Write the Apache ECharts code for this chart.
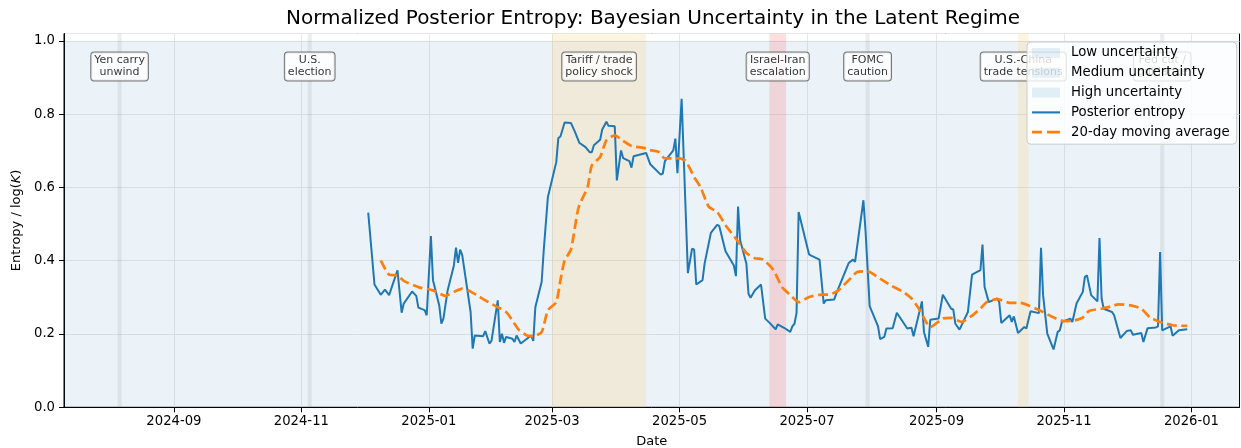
<!DOCTYPE html>
<html><head><meta charset="utf-8">
<script src="https://cdn.jsdelivr.net/npm/echarts@6/dist/echarts.min.js"></script>
<style>html,body{margin:0;padding:0;background:#fff}#c{width:1241px;height:448px}</style>
</head><body><div id="c"></div>
<script>
// ---------------- data ----------------
const entropyDates = [
'2024-12-03','2024-12-06','2024-12-09','2024-12-11','2024-12-13','2024-12-17','2024-12-19','2024-12-20','2024-12-24','2024-12-26',
'2024-12-27','2024-12-30','2024-12-31','2025-01-02','2025-01-03','2025-01-06','2025-01-07','2025-01-08','2025-01-10','2025-01-13',
'2025-01-14','2025-01-15','2025-01-16','2025-01-17','2025-01-21','2025-01-22','2025-01-23','2025-01-27','2025-01-28','2025-01-30',
'2025-01-31','2025-02-03','2025-02-04','2025-02-05','2025-02-06','2025-02-07','2025-02-10','2025-02-11','2025-02-12','2025-02-14',
'2025-02-19','2025-02-20','2025-02-21','2025-02-24','2025-02-25','2025-02-27','2025-03-03','2025-03-04','2025-03-05','2025-03-07',
'2025-03-10','2025-03-12','2025-03-14','2025-03-17','2025-03-19','2025-03-20','2025-03-21','2025-03-24','2025-03-25','2025-03-27',
'2025-03-28','2025-03-31','2025-04-01','2025-04-03','2025-04-04','2025-04-07','2025-04-08','2025-04-09','2025-04-15','2025-04-17',
'2025-04-22','2025-04-23','2025-04-24','2025-04-28','2025-04-29','2025-04-30','2025-05-02','2025-05-05','2025-05-07','2025-05-08',
'2025-05-09','2025-05-12','2025-05-13','2025-05-16','2025-05-19','2025-05-20','2025-05-23','2025-05-27','2025-05-28','2025-05-29',
'2025-05-30','2025-06-02','2025-06-03','2025-06-04','2025-06-06','2025-06-09','2025-06-11','2025-06-13','2025-06-16','2025-06-17',
'2025-06-20','2025-06-23','2025-06-24','2025-06-25','2025-06-26','2025-06-27','2025-07-02','2025-07-03','2025-07-07','2025-07-09',
'2025-07-10','2025-07-14','2025-07-15','2025-07-17','2025-07-21','2025-07-23','2025-07-24','2025-07-28','2025-07-29','2025-07-31',
'2025-08-04','2025-08-05','2025-08-07','2025-08-08','2025-08-11','2025-08-13','2025-08-18','2025-08-20','2025-08-21','2025-08-25',
'2025-08-26','2025-08-28','2025-08-29','2025-09-02','2025-09-04','2025-09-08','2025-09-09','2025-09-10','2025-09-12','2025-09-16',
'2025-09-18','2025-09-22','2025-09-23','2025-09-24','2025-09-26','2025-09-30','2025-10-01','2025-10-02','2025-10-06','2025-10-07',
'2025-10-08','2025-10-10','2025-10-13','2025-10-14','2025-10-15','2025-10-16','2025-10-20','2025-10-21','2025-10-22','2025-10-24',
'2025-10-27','2025-10-29','2025-10-30','2025-10-31','2025-11-04','2025-11-05','2025-11-07','2025-11-10','2025-11-11','2025-11-12',
'2025-11-14','2025-11-17','2025-11-18','2025-11-19','2025-11-20','2025-11-24','2025-11-25','2025-11-28','2025-12-01','2025-12-03',
'2025-12-04','2025-12-08','2025-12-09','2025-12-11','2025-12-15','2025-12-16','2025-12-17','2025-12-18','2025-12-22','2025-12-23',
'2025-12-26','2025-12-30'
];
const entropyValues = [
0.531,0.335,0.307,0.321,0.306,0.374,0.258,0.283,0.316,0.304,
0.272,0.265,0.251,0.467,0.347,0.278,0.228,0.242,0.319,0.387,
0.436,0.394,0.430,0.415,0.260,0.160,0.196,0.194,0.208,0.174,
0.181,0.292,0.178,0.201,0.176,0.192,0.187,0.178,0.196,0.174,
0.196,0.181,0.274,0.342,0.428,0.574,0.669,0.735,0.739,0.777,
0.776,0.751,0.722,0.710,0.696,0.696,0.715,0.730,0.758,0.779,
0.768,0.767,0.619,0.701,0.680,0.672,0.654,0.685,0.694,0.663,
0.635,0.638,0.672,0.701,0.733,0.639,0.842,0.366,0.433,0.430,
0.335,0.347,0.392,0.476,0.498,0.495,0.426,0.387,0.358,0.548,
0.456,0.392,0.310,0.299,0.319,0.335,0.242,0.231,0.213,0.226,
0.217,0.206,0.221,0.228,0.257,0.533,0.417,0.414,0.403,0.283,
0.292,0.294,0.310,0.338,0.394,0.403,0.397,0.565,0.483,0.276,
0.221,0.186,0.192,0.215,0.216,0.258,0.215,0.217,0.194,0.289,
0.205,0.165,0.239,0.242,0.307,0.269,0.267,0.228,0.212,0.260,
0.362,0.374,0.444,0.328,0.287,0.297,0.287,0.230,0.251,0.233,
0.248,0.203,0.219,0.215,0.239,0.262,0.257,0.435,0.306,0.201,
0.158,0.206,0.210,0.233,0.242,0.233,0.283,0.315,0.356,0.360,
0.306,0.289,0.462,0.297,0.269,0.260,0.251,0.189,0.208,0.210,
0.198,0.203,0.178,0.216,0.218,0.221,0.424,0.210,0.221,0.195,
0.210,0.213
];
const maDates = [
'2024-12-09','2024-12-13','2024-12-17','2024-12-20','2024-12-27','2025-01-03','2025-01-09','2025-01-13','2025-01-17','2025-01-20',
'2025-01-24','2025-01-28','2025-02-02','2025-02-07','2025-02-10','2025-02-13','2025-02-17','2025-02-20','2025-02-24','2025-02-27',
'2025-03-03','2025-03-05','2025-03-07','2025-03-10','2025-03-13','2025-03-14','2025-03-18','2025-03-20','2025-03-24','2025-03-27',
'2025-03-31','2025-04-04','2025-04-08','2025-04-14','2025-04-16','2025-04-21','2025-04-24','2025-05-01','2025-05-04','2025-05-08',
'2025-05-11','2025-05-15','2025-05-19','2025-05-23','2025-05-28','2025-06-02','2025-06-06','2025-06-10','2025-06-15','2025-06-19',
'2025-06-23','2025-06-27','2025-07-02','2025-07-07','2025-07-12','2025-07-16','2025-07-21','2025-07-25','2025-07-30','2025-08-05',
'2025-08-10','2025-08-16','2025-08-20','2025-08-24','2025-08-27','2025-08-29','2025-09-04','2025-09-08','2025-09-13','2025-09-17',
'2025-09-22','2025-09-25','2025-09-30','2025-10-06','2025-10-11','2025-10-15','2025-10-21','2025-10-26','2025-11-01','2025-11-06',
'2025-11-10','2025-11-13','2025-11-19','2025-11-24','2025-11-27','2025-12-03','2025-12-08','2025-12-12','2025-12-17','2025-12-23',
'2025-12-30'
];
const maValues = [
0.401,0.362,0.360,0.345,0.328,0.319,0.304,0.315,0.324,0.319,
0.306,0.292,0.276,0.260,0.237,0.212,0.196,0.194,0.205,0.265,
0.287,0.347,0.401,0.430,0.528,0.551,0.601,0.660,0.683,0.729,
0.742,0.727,0.713,0.708,0.703,0.697,0.679,0.679,0.672,0.628,
0.601,0.547,0.533,0.497,0.460,0.421,0.407,0.403,0.374,0.328,
0.306,0.287,0.301,0.307,0.308,0.319,0.347,0.369,0.371,0.351,
0.333,0.315,0.297,0.265,0.233,0.219,0.242,0.244,0.233,0.246,
0.269,0.287,0.295,0.285,0.285,0.278,0.263,0.248,0.235,0.237,
0.245,0.263,0.269,0.276,0.281,0.278,0.269,0.246,0.233,0.224,
0.222
];
const eventLabels = ['Yen carry\nunwind','U.S.\nelection','Tariff / trade\npolicy shock','Israel-Iran\nescalation','FOMC\ncaution','U.S.-China\ntrade tensions','Fed cut /\nguidance'];
const eventStarts = ['2024-08-05','2024-11-04','2025-03-01','2025-06-13','2025-07-29','2025-10-10','2025-12-17'];
const eventEnds   = ['2024-08-07','2024-11-06','2025-04-15','2025-06-21','2025-07-31','2025-10-15','2025-12-19'];
const eventKinds  = ['macro','macro','trade','geo','macro','trade','macro'];
const regimeNames = ['Low uncertainty','Medium uncertainty','High uncertainty'];
const xTickLabels = ['2024-09','2024-11','2025-01','2025-03','2025-05','2025-07','2025-09','2025-11','2026-01'];
const yTickLabels = ['0.0','0.2','0.4','0.6','0.8','1.0'];

// ---------------- chart ----------------
const FONT = 'DejaVu Sans';
const DAY = 86400000;
function toMs(s){ const p = s.split('-').map(Number); return Date.UTC(p[0], p[1]-1, p[2] || 1); }
const xTickValues = xTickLabels.map(s => toMs(s + '-01'));
const kindColor = { macro: 'rgba(120,120,145,0.13)', trade: 'rgba(255,200,100,0.2)', geo: 'rgba(255,90,100,0.2)' };
const bgColor = 'rgba(31,119,180,0.09)';
const patchColor = 'rgba(31,119,180,0.11)';

const bandAreas = [[{ yAxis: 0, itemStyle: { color: bgColor } }, { yAxis: 1 }]];
eventStarts.forEach((s, i) => {
  bandAreas.push([{ xAxis: toMs(s), itemStyle: { color: kindColor[eventKinds[i]] } }, { xAxis: toMs(eventEnds[i]) }]);
});
const annData = eventLabels.map((t, i) => ({
  value: [(toMs(eventStarts[i]) + toMs(eventEnds[i])) / 2, 0.93],
  name: t
}));

const chart = echarts.init(document.getElementById('c'), null, { renderer: 'canvas', width: 1241, height: 448 });
chart.setOption({
  animation: false,
  backgroundColor: '#fff',
  title: {
    text: 'Normalized Posterior Entropy: Bayesian Uncertainty in the Latent Regime',
    left: 653, top: 9, textAlign: 'center', padding: 0,
    textStyle: { fontFamily: FONT, fontSize: 20, fontWeight: 'normal', color: '#000' }
  },
  grid: { left: 64, right: 1.5, top: 33.5, bottom: 40.7, show: true, borderColor: '#000', borderWidth: 1,
          backgroundColor: 'transparent', containLabel: false, outerBoundsMode: 'none' },
  legend: {
    orient: 'vertical', left: 1027, top: 42, z: 10,
    itemWidth: 28, itemHeight: 10, itemGap: 5.8,
    padding: [4, 7, 5, 5],
    backgroundColor: 'rgba(255,255,255,0.8)', borderColor: '#cccccc', borderWidth: 1, borderRadius: 4,
    selectedMode: false,
    textStyle: { fontFamily: FONT, fontSize: 13.3, color: '#000', lineHeight: 14, padding: [0, 0, 0, 6] },
    data: [
      { name: regimeNames[0], icon: 'rect', itemStyle: { color: patchColor, borderWidth: 0 } },
      { name: regimeNames[1], icon: 'rect', itemStyle: { color: patchColor, borderWidth: 0 } },
      { name: regimeNames[2], icon: 'rect', itemStyle: { color: patchColor, borderWidth: 0 } },
      { name: 'Posterior entropy', icon: 'path://M0,0h28v2.1h-28z', itemStyle: { color: '#1f77b4', borderWidth: 0 } },
      { name: '20-day moving average', icon: 'path://M0,0h10v2.8h-10zM15,0h13v2.8h-13z', itemStyle: { color: '#ff7f0e', borderWidth: 0 } }
    ]
  },
  xAxis: {
    type: 'value', scale: true,
    min: toMs('2024-07-10') + 0.4 * DAY, max: toMs('2026-01-24'),
    name: 'Date', nameLocation: 'middle', nameGap: 28,
    nameTextStyle: { fontFamily: FONT, fontSize: 13, color: '#000' },
    axisLine: { show: true, onZero: false, lineStyle: { color: '#000', width: 1 } },
    axisTick: { show: true, length: 5, lineStyle: { color: '#000', width: 1 }, customValues: xTickValues },
    axisLabel: {
      customValues: xTickValues, fontFamily: FONT, fontSize: 13.2, color: '#000', margin: 8, hideOverlap: false,
      formatter: v => { const k = xTickValues.indexOf(v); return k >= 0 ? xTickLabels[k] : ''; }
    },
    splitLine: { show: true, lineStyle: { color: '#e8e8e8', width: 1 } }
  },
  yAxis: {
    type: 'value', min: 0, max: 1.02, interval: 0.2,
    name: 'Entropy / log({i|K})', nameLocation: 'middle', nameGap: 34, nameRotate: 90,
    nameTextStyle: { fontFamily: FONT, fontSize: 13, color: '#000', rich: { i: { fontFamily: FONT, fontSize: 13, fontStyle: 'italic', color: '#000' } } },
    axisLine: { show: true, lineStyle: { color: '#000', width: 1 } },
    axisTick: { show: true, length: 5, lineStyle: { color: '#000', width: 1 } },
    axisLabel: {
      fontFamily: FONT, fontSize: 13.2, color: '#000', margin: 9, showMaxLabel: false,
      formatter: v => { const k = Math.round(v / 0.2); return (Math.abs(v - k * 0.2) < 1e-6 && yTickLabels[k]) ? yTickLabels[k] : ''; }
    },
    splitLine: { show: true, lineStyle: { color: '#e8e8e8', width: 1 } }
  },
  series: [
    { type: 'line', name: '_bands', data: [], z: 1, silent: true, markArea: { silent: true, data: bandAreas } },
    { type: 'line', name: regimeNames[0], data: [] },
    { type: 'line', name: regimeNames[1], data: [] },
    { type: 'line', name: regimeNames[2], data: [] },
    {
      type: 'line', name: 'Posterior entropy', z: 3,
      data: entropyDates.map((d, i) => [toMs(d), entropyValues[i]]),
      showSymbol: false, symbol: 'none',
      itemStyle: { color: '#1f77b4' },
      lineStyle: { color: '#1f77b4', width: 2 }
    },
    {
      type: 'line', name: '20-day moving average', z: 3,
      data: maDates.map((d, i) => [toMs(d), maValues[i]]),
      showSymbol: false, symbol: 'none', smooth: 0.2,
      itemStyle: { color: '#ff7f0e' },
      lineStyle: { color: '#ff7f0e', width: 2.7, type: [10, 4.5] }
    },
    {
      type: 'scatter', name: '_ann', z: 5, silent: true,
      data: annData, symbol: 'rect', symbolSize: 1, itemStyle: { color: 'rgba(0,0,0,0)' },
      label: {
        show: true, position: 'inside', formatter: p => p.name,
        fontFamily: FONT, fontSize: 11, lineHeight: 12, color: '#000', align: 'center',
        backgroundColor: '#fff', borderColor: '#555', borderWidth: 1, borderRadius: 3, padding: [2, 3, 2, 3]
      }
    }
  ]
});
</script>
</body></html>
